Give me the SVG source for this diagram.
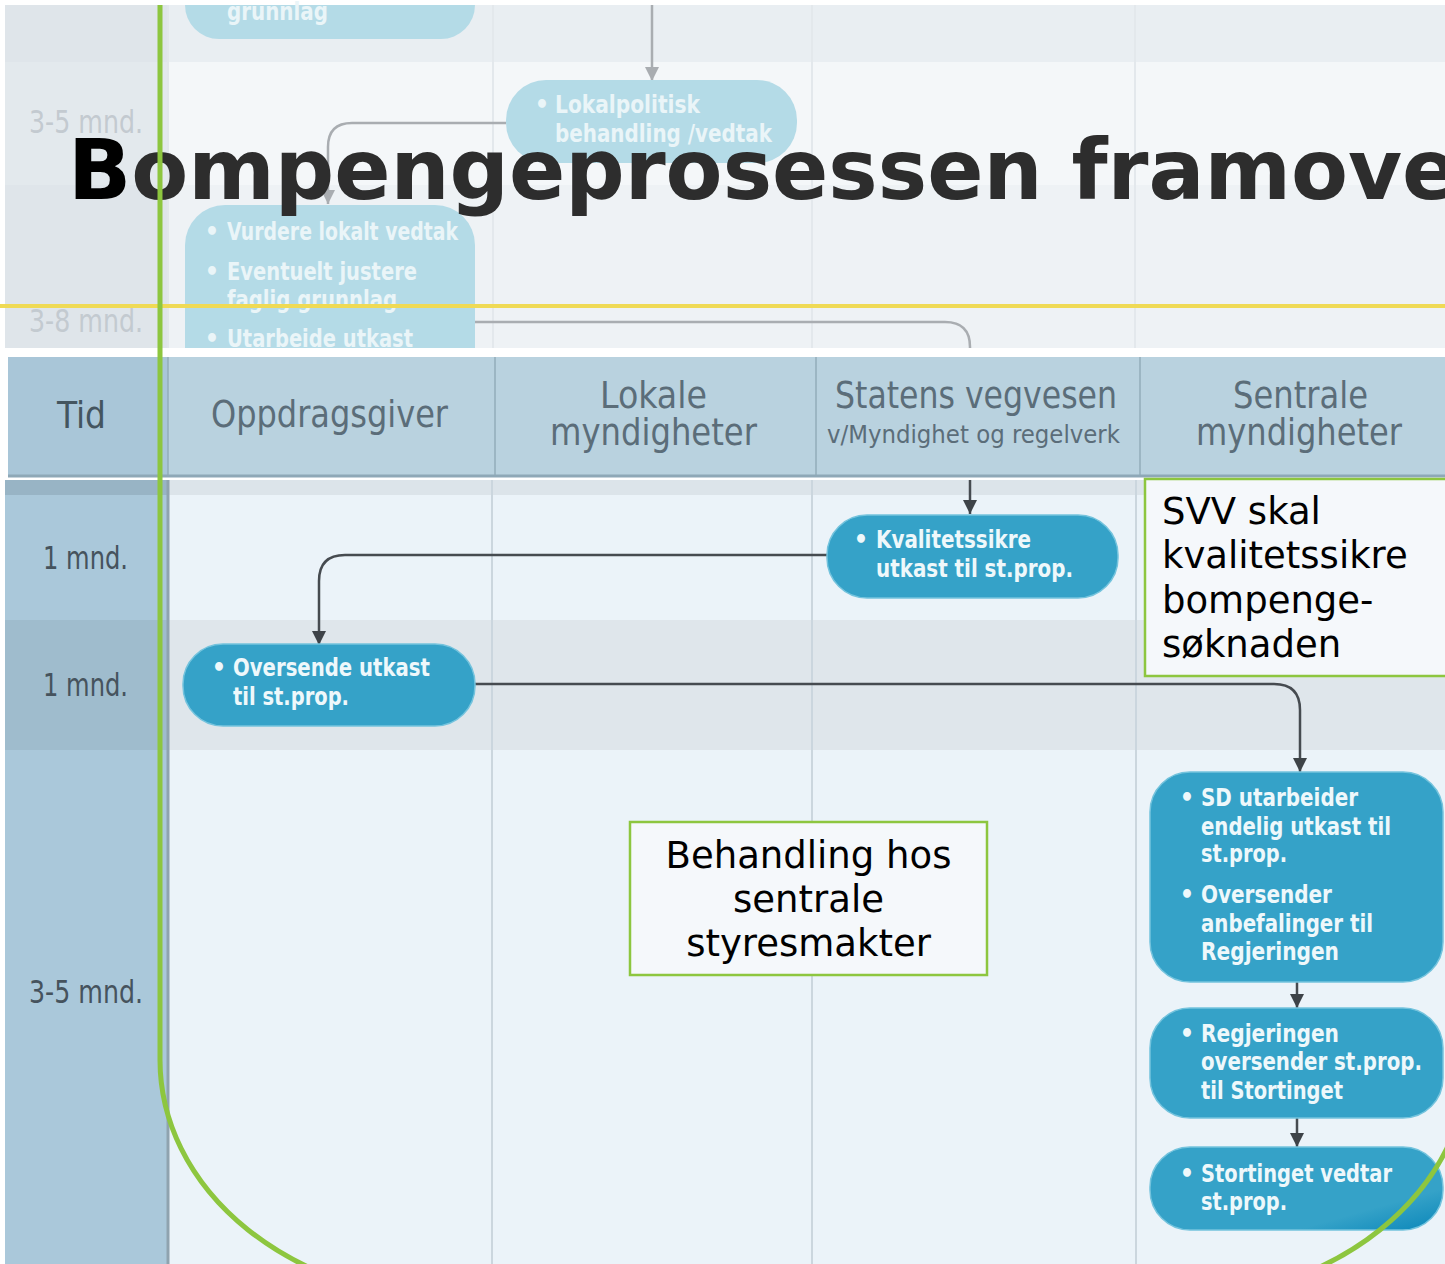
<svg xmlns="http://www.w3.org/2000/svg" width="1445" height="1264" viewBox="0 0 1445 1264">
<defs>
<style>
.hd{font-family:"Liberation Sans Narrow","DejaVu Sans Condensed",sans-serif;fill:#5b6d79;font-size:38px}
.hds{font-size:25px}
.tm{font-family:"Liberation Sans Narrow","DejaVu Sans Condensed",sans-serif;fill:#46535d;font-size:32px}
.tmf{fill:#c3cad0}
.nt{font-family:"Liberation Sans Narrow","DejaVu Sans Condensed",sans-serif;font-weight:bold;fill:#eef8fb;font-size:25px}
.ntf{fill:#eaf5f8}
.bl{text-anchor:middle}
.node{fill:#35a2c8;stroke:#74c3dd;stroke-width:1.5}
.nodef{fill:#b4dbe7}
.note{fill:#f5f8fb;stroke:#8dc63f;stroke-width:2.5}
.nt2{font-family:"DejaVu Sans",Verdana,sans-serif;font-size:37px;fill:#000}
.con{fill:none;stroke:#464b50;stroke-width:2.5}
.conf{fill:none;stroke:#a9adb1;stroke-width:2.5}
.sep{stroke:#cbd6de;stroke-width:2}
.hsep{stroke:#93acba;stroke-width:1.5}
.green{fill:none;stroke:#8dc63f;stroke-width:5}
</style>
<marker id="ah" markerUnits="userSpaceOnUse" markerWidth="14" markerHeight="16" refX="14" refY="7" orient="auto"><path d="M0,0 L14,7 L0,14 Z" fill="#3e4348"/></marker>
<marker id="ahf" markerUnits="userSpaceOnUse" markerWidth="14" markerHeight="16" refX="14" refY="7" orient="auto"><path d="M0,0 L14,7 L0,14 Z" fill="#a9adb1"/></marker>
<linearGradient id="gs" x1="0" y1="0" x2="1" y2="1"><stop offset="0.75" stop-color="#35a2c8"/><stop offset="1" stop-color="#0a86b9"/></linearGradient>
</defs>
<rect x="0" y="0" width="1445" height="1264" fill="#ffffff"/>
<g id="top-background">
<rect x="5" y="5" width="1440" height="343" fill="#eef2f5"/>
<rect x="168" y="5" width="1277" height="57" fill="#e9eef2"/>
<rect x="168" y="62" width="1277" height="123" fill="#f4f7f9"/>
<rect x="5" y="5" width="163" height="343" fill="#dfe5ea"/>
<rect x="5" y="62" width="163" height="123" fill="#e3e9ed"/>
<line x1="168" y1="5" x2="168" y2="348" stroke="#e2e7eb" stroke-width="2"/>
<line x1="493" y1="5" x2="493" y2="348" stroke="#e3e8ec" stroke-width="2"/>
<line x1="812" y1="5" x2="812" y2="348" stroke="#e3e8ec" stroke-width="2"/>
<line x1="1135" y1="5" x2="1135" y2="348" stroke="#e3e8ec" stroke-width="2"/>
<text class="tm tmf" x="29" y="133" textLength="114" lengthAdjust="spacingAndGlyphs">3-5 mnd.</text>
<text class="tm tmf" x="29" y="332" textLength="114" lengthAdjust="spacingAndGlyphs">3-8 mnd.</text>
</g>
<g id="top-connectors">
<path class="conf" d="M652,5 V81" marker-end="url(#ahf)"/>
<path class="conf" d="M506,123 H352 Q328,123 328,147 V204" marker-end="url(#ahf)"/>
<path class="conf" d="M475,322 H945 Q970,322 970,347 V350"/>
</g>
<g id="n-grunnlag">
<path class="nodef" d="M185,5 H475 A34,34 0 0 1 441,39 H219 A34,34 0 0 1 185,5 Z"/>
<text class="nt ntf" x="227" y="20" textLength="101" lengthAdjust="spacingAndGlyphs">grunnlag</text>
</g>
<g id="n-lokalpolitisk">
<rect class="nodef" x="506" y="80" width="291" height="83" rx="40"/>
<text class="nt ntf bl" x="542" y="113">•</text>
<text class="nt ntf" x="555" y="113" textLength="145" lengthAdjust="spacingAndGlyphs">Lokalpolitisk</text>
<text class="nt ntf" x="555" y="142" textLength="217" lengthAdjust="spacingAndGlyphs">behandling /vedtak</text>
</g>
<g id="n-vurdere">
<path class="nodef" d="M185,350 V245 A40,40 0 0 1 225,205 H435 A40,40 0 0 1 475,245 V350 Z"/>
<text class="nt ntf bl" x="212" y="240">•</text>
<text class="nt ntf" x="227" y="240" textLength="231" lengthAdjust="spacingAndGlyphs">Vurdere lokalt vedtak</text>
<text class="nt ntf bl" x="212" y="280">•</text>
<text class="nt ntf" x="227" y="280" textLength="190" lengthAdjust="spacingAndGlyphs">Eventuelt justere</text>
<text class="nt ntf" x="227" y="308" textLength="170" lengthAdjust="spacingAndGlyphs">faglig grunnlag</text>
<text class="nt ntf bl" x="212" y="347">•</text>
<text class="nt ntf" x="227" y="347" textLength="186" lengthAdjust="spacingAndGlyphs">Utarbeide utkast</text>
</g>
<rect x="0" y="348" width="1445" height="9" fill="#ffffff"/>
<g id="header">
<rect x="8" y="357" width="1437" height="119" fill="#b9d2df"/>
<rect x="8" y="357" width="160" height="119" fill="#a9c6d8"/>
<line class="hsep" x1="168" y1="357" x2="168" y2="476"/>
<line class="hsep" x1="495" y1="357" x2="495" y2="476"/>
<line class="hsep" x1="816" y1="357" x2="816" y2="476"/>
<line class="hsep" x1="1140" y1="357" x2="1140" y2="476"/>
<line x1="8" y1="476" x2="1445" y2="476" stroke="#8ea8b7" stroke-width="3"/>
<text class="hd" x="57" y="428" textLength="49" lengthAdjust="spacingAndGlyphs" style="fill:#44555f">Tid</text>
<text class="hd" x="211" y="427" textLength="237" lengthAdjust="spacingAndGlyphs">Oppdragsgiver</text>
<text class="hd" x="600" y="408" textLength="107" lengthAdjust="spacingAndGlyphs">Lokale</text>
<text class="hd" x="550" y="445" textLength="207" lengthAdjust="spacingAndGlyphs">myndigheter</text>
<text class="hd" x="835" y="408" textLength="282" lengthAdjust="spacingAndGlyphs">Statens vegvesen</text>
<text class="hd hds" x="827" y="443" textLength="293" lengthAdjust="spacingAndGlyphs">v/Myndighet og regelverk</text>
<text class="hd" x="1233" y="408" textLength="135" lengthAdjust="spacingAndGlyphs">Sentrale</text>
<text class="hd" x="1196" y="445" textLength="206" lengthAdjust="spacingAndGlyphs">myndigheter</text>
</g>
<g id="body-background">
<rect x="5" y="480" width="162" height="15" fill="#98b4c5"/>
<rect x="5" y="495" width="162" height="125" fill="#aac8da"/>
<rect x="5" y="620" width="162" height="130" fill="#9fbccd"/>
<rect x="5" y="750" width="162" height="514" fill="#aac8da"/>
<rect x="168" y="480" width="1277" height="15" fill="#dce4ea"/>
<rect x="168" y="495" width="1277" height="125" fill="#ebf3f9"/>
<rect x="168" y="620" width="1277" height="130" fill="#dfe6eb"/>
<rect x="168" y="750" width="1277" height="514" fill="#ebf3f9"/>
<line x1="168" y1="480" x2="168" y2="1264" stroke="#8fa3af" stroke-width="3"/>
<line class="sep" x1="492" y1="480" x2="492" y2="1264"/>
<line class="sep" x1="812" y1="480" x2="812" y2="1264"/>
<line class="sep" x1="1136" y1="480" x2="1136" y2="1264"/>
<text class="tm" x="43" y="569" textLength="85" lengthAdjust="spacingAndGlyphs">1 mnd.</text>
<text class="tm" x="43" y="696" textLength="85" lengthAdjust="spacingAndGlyphs">1 mnd.</text>
<text class="tm" x="29" y="1003" textLength="114" lengthAdjust="spacingAndGlyphs">3-5 mnd.</text>
</g>
<g id="connectors">
<path class="con" d="M970,480 V514" marker-end="url(#ah)"/>
<path class="con" d="M827,555 H345 Q319,555 319,581 V645" marker-end="url(#ah)"/>
<path class="con" d="M475,684 H1274 Q1300,684 1300,710 V772" marker-end="url(#ah)"/>
<path class="con" d="M1297,982 V1008" marker-end="url(#ah)"/>
<path class="con" d="M1297,1118 V1147" marker-end="url(#ah)"/>
</g>
<g id="n-kvalitetssikre">
<rect class="node" x="827" y="515" width="291" height="83" rx="40"/>
<text class="nt bl" x="861" y="548">•</text>
<text class="nt" x="876" y="548" textLength="155" lengthAdjust="spacingAndGlyphs">Kvalitetssikre</text>
<text class="nt" x="876" y="577" textLength="197" lengthAdjust="spacingAndGlyphs">utkast til st.prop.</text>
</g>
<g id="n-oversende">
<rect class="node" x="183" y="644" width="292" height="82" rx="40"/>
<text class="nt bl" x="219" y="676">•</text>
<text class="nt" x="233" y="676" textLength="197" lengthAdjust="spacingAndGlyphs">Oversende utkast</text>
<text class="nt" x="233" y="705" textLength="116" lengthAdjust="spacingAndGlyphs">til st.prop.</text>
</g>
<g id="n-sd">
<rect class="node" x="1150" y="772" width="293" height="210" rx="40"/>
<text class="nt bl" x="1187" y="806">•</text>
<text class="nt" x="1201" y="806" textLength="157" lengthAdjust="spacingAndGlyphs">SD utarbeider</text>
<text class="nt" x="1201" y="835" textLength="190" lengthAdjust="spacingAndGlyphs">endelig utkast til</text>
<text class="nt" x="1201" y="862" textLength="86" lengthAdjust="spacingAndGlyphs">st.prop.</text>
<text class="nt bl" x="1187" y="903">•</text>
<text class="nt" x="1201" y="903" textLength="131" lengthAdjust="spacingAndGlyphs">Oversender</text>
<text class="nt" x="1201" y="932" textLength="172" lengthAdjust="spacingAndGlyphs">anbefalinger til</text>
<text class="nt" x="1201" y="960" textLength="138" lengthAdjust="spacingAndGlyphs">Regjeringen</text>
</g>
<g id="n-regjeringen">
<rect class="node" x="1150" y="1008" width="293" height="110" rx="40"/>
<text class="nt bl" x="1187" y="1042">•</text>
<text class="nt" x="1201" y="1042" textLength="138" lengthAdjust="spacingAndGlyphs">Regjeringen</text>
<text class="nt" x="1201" y="1070" textLength="221" lengthAdjust="spacingAndGlyphs">oversender st.prop.</text>
<text class="nt" x="1201" y="1099" textLength="142" lengthAdjust="spacingAndGlyphs">til Stortinget</text>
</g>
<g id="n-stortinget">
<rect x="1150" y="1147" width="293" height="83" rx="40" fill="url(#gs)" stroke="#74c3dd" stroke-width="1.5"/>
<text class="nt bl" x="1187" y="1182">•</text>
<text class="nt" x="1201" y="1182" textLength="191" lengthAdjust="spacingAndGlyphs">Stortinget vedtar</text>
<text class="nt" x="1201" y="1210" textLength="86" lengthAdjust="spacingAndGlyphs">st.prop.</text>
</g>
<g id="title">
<text x="68" y="199" font-family="'DejaVu Sans',Verdana,sans-serif" font-weight="bold" font-size="83" fill="#2d2d2d"><tspan fill="#000">B</tspan>ompengeprosessen framover</text>
</g>
<line id="yellow-line" x1="0" y1="306" x2="1445" y2="306" stroke="#efda55" stroke-width="4"/>
<g id="green-frame">
<path class="green" d="M160,5 V1060 A300,240 0 0 0 460,1300"/>
<path class="green" d="M1468,5 V1060 A300,240 0 0 1 1168,1300"/>
</g>
<g id="note-svv">
<rect class="note" x="1145" y="479" width="310" height="197"/>
<text class="nt2" x="1162" y="524">SVV skal</text>
<text class="nt2" x="1162" y="568">kvalitetssikre</text>
<text class="nt2" x="1162" y="613">bompenge-</text>
<text class="nt2" x="1162" y="657">søknaden</text>
</g>
<g id="note-behandling">
<rect class="note" x="630" y="822" width="357" height="153"/>
<text class="nt2" x="808.5" y="868" text-anchor="middle">Behandling hos</text>
<text class="nt2" x="808.5" y="912" text-anchor="middle">sentrale</text>
<text class="nt2" x="808.5" y="956" text-anchor="middle">styresmakter</text>
</g>
</svg>
